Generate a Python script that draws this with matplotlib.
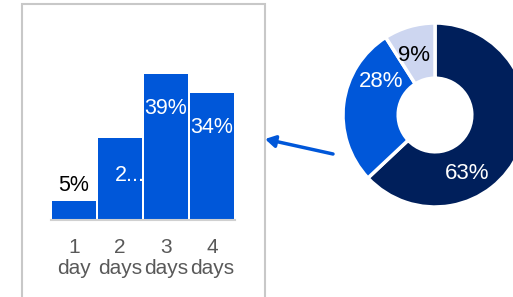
import matplotlib
matplotlib.use("Agg")
import matplotlib.pyplot as plt
from matplotlib.patches import Rectangle, FancyArrowPatch

plt.rcParams['font.family'] = ['Liberation Sans', 'DejaVu Sans']

# data
bar_ticks = ["1\nday", "2\ndays", "3\ndays", "4\ndays"]
bar_values = [5, 22, 39, 34]
bar_labels = ["5%", "2...", "39%", "34%"]
donut_values = [63, 28, 9]
donut_labels = ["63%", "28%", "9%"]

W, H = 513, 297
fig = plt.figure(figsize=(W / 100, H / 100), dpi=100)

def fx(px):
    return px / W

def fy(py):
    return 1 - py / H

BLUE = "#0057D9"
NAVY = "#001F5B"
LIGHT = "#CDD6F0"
GRAY = "#595959"

# panel box
fig.patches.append(Rectangle((fx(22), fy(320)), fx(265) - fx(22), fy(4) - fy(320),
                             transform=fig.transFigure, fill=False,
                             edgecolor="#C8C8C8", lw=1.5))

# bar chart
ax = fig.add_axes([fx(51), fy(220), fx(235) - fx(51), fy(20) - fy(220)])
x = list(range(len(bar_values)))
ax.bar(x, bar_values, width=0.96, color=BLUE)
ax.set_xlim(-0.5, len(bar_values) - 0.5)
ax.set_ylim(0, 200 / 3.74)
for s in ["top", "right", "left"]:
    ax.spines[s].set_visible(False)
ax.spines["bottom"].set_color("#D0D0D0")
ax.spines["bottom"].set_linewidth(1.5)
ax.set_yticks([])
ax.set_xticks(x)
ax.set_xticklabels(bar_ticks, fontsize=15, color=GRAY, linespacing=1.15)
ax.tick_params(axis="x", length=0, pad=13)

for i, (v, lab) in enumerate(zip(bar_values, bar_labels)):
    if v < 10:
        ax.annotate(lab, (i, v), xytext=(0, 4), textcoords="offset points",
                    ha="center", va="bottom", fontsize=15.5, color="black")
    elif lab.endswith("..."):
        ax.annotate(lab, (i, v), xytext=(-4, -27), textcoords="offset points",
                    ha="left", va="center", fontsize=15.5, color="white")
    else:
        ax.annotate(lab, (i, v), xytext=(0, -25), textcoords="offset points",
                    ha="center", va="center", fontsize=15.5, color="white")

# donut
pax = fig.add_axes([fx(343), fy(207), fx(527) - fx(343), fy(23) - fy(207)])
pax.pie(donut_values, colors=[NAVY, BLUE, LIGHT], startangle=90, counterclock=False,
        radius=1, wedgeprops=dict(width=0.6, edgecolor="white", linewidth=2.5))
pax.set_xlim(-1, 1)
pax.set_ylim(-1, 1)
pax.set_aspect("equal")
pax.axis("off")
label_pos = [(0.35, -0.64), (-0.59, 0.36), (-0.23, 0.65)]
label_col = ["white", "white", "black"]
for lab, (lx, ly), c in zip(donut_labels, label_pos, label_col):
    pax.text(lx, ly, lab, ha="center", va="center", fontsize=16, color=c)

# arrow
fig.add_artist(FancyArrowPatch(
    (fx(333), fy(154)), (fx(265), fy(139)), transform=fig.transFigure,
    arrowstyle="-|>,head_length=6,head_width=3.5", color=BLUE, lw=2.5,
    shrinkA=0, shrinkB=0))

fig.savefig("out.png", dpi=100)
